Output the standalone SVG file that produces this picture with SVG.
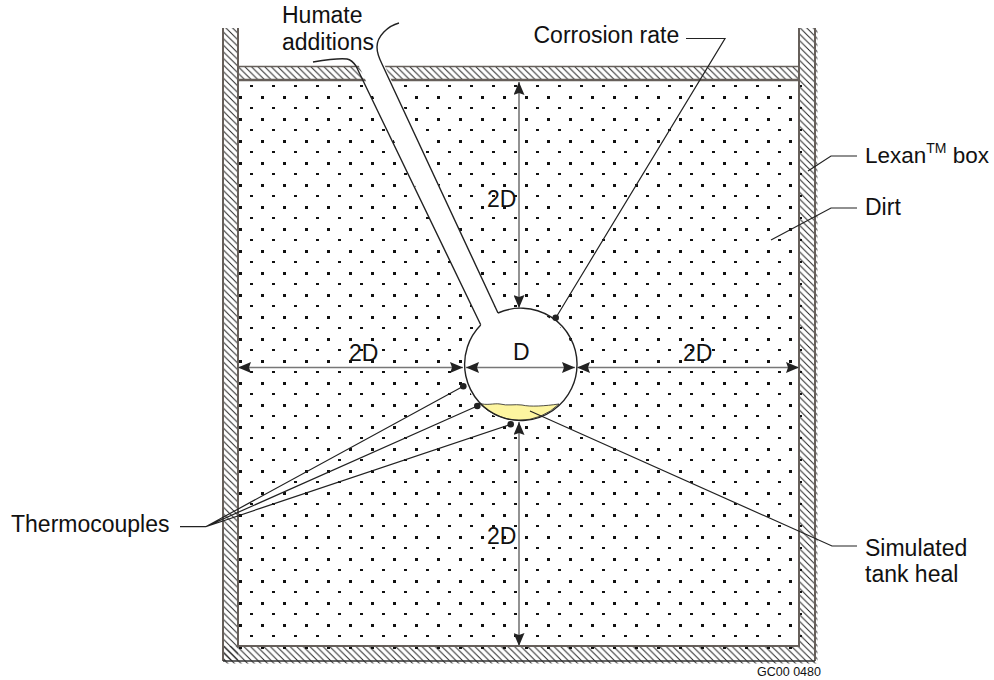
<svg xmlns="http://www.w3.org/2000/svg" width="994" height="680" viewBox="0 0 994 680">
<style>
text{font-family:"Liberation Sans",Arial,sans-serif;font-size:23px;fill:#111}
.l{fill:none;stroke:#222;stroke-width:1.2}
.p{fill:none;stroke:#222;stroke-width:1.4}
.w{fill:none;stroke:#665f5a;stroke-width:2}
.d{stroke:#777;stroke-width:1.6;fill:none}
.dot{fill:#222}
</style>
<defs>
<pattern id="hatch" width="6.6" height="6.6" patternUnits="userSpaceOnUse">
<path d="M-1,-1L7.6,7.6M-7.6,-1L1,7.6M5.6,-1L14.2,7.6" stroke="#222" stroke-width="1" fill="none"/>
</pattern>
<pattern id="dots" x="239" y="580" width="22" height="22" patternUnits="userSpaceOnUse">
<rect x="0" y="0" width="3" height="3" fill="#111"/>
<rect x="11" y="11" width="3" height="2" fill="#111"/>
</pattern>
<marker id="a" viewBox="0 0 13 11" markerWidth="13" markerHeight="11" refX="13" refY="5.500" orient="auto-start-reverse" markerUnits="userSpaceOnUse">
<path d="M0,0L13,5.500L0,11L2,5.500Z" fill="#222"/>
</marker>
</defs>
<g id="box">
<path d="M223,28H238V661H223Z" fill="url(#hatch)"/>
<path d="M799,28H817.500V663.500H223V646H799Z" fill="url(#hatch)"/>
<path d="M238,66H799V80H238Z" fill="url(#hatch)"/>
<rect x="238" y="82" width="564" height="567" fill="url(#dots)"/>
<path class="w" d="M223,28V661M815,661V28M238,28V646H799V28"/>
<path d="M223,661H815" stroke="#333" stroke-width="1.500" fill="none"/>
<path d="M238,80H799" stroke="#665f5a" stroke-width="2.400" fill="none"/>
<path d="M238,66.500H799" stroke="#665f5a" stroke-width="1.300" fill="none"/>
</g>
<g id="tank">
<path d="M353,64L358,64L481,326L498,314L384,64Z" fill="#fff"/>
<circle cx="519.500" cy="365.700" r="56.200" fill="#fff"/>
<path d="M472,334L481,325L498,313L505,325Z" fill="#fff"/>
<path d="M479,403C486,406 494,403 500,404C507,406 515,404 522,405C530,407 545,406 559,404A56.200,56.200,0,0,1,479,403Z" fill="#fdf5a0" stroke="#222" stroke-width="0.800"/>
<path class="p" d="M498,313A56.200,56.200,0,1,1,480.700,325"/>
<path class="p" d="M313,62C325,60 340,58 347,59C352,60 354,63 356,66L480.700,324.700"/>
<path class="p" d="M399,23C388,26 377,36 377,47C377,53 379,58 382,64L498,313"/>
</g>
<g id="connectors">
<path class="d" d="M519,82V308" marker-start="url(#a)" marker-end="url(#a)"/>
<path class="d" d="M519,422V646" marker-start="url(#a)" marker-end="url(#a)"/>
<path class="d" d="M238,367.500H463" marker-start="url(#a)" marker-end="url(#a)"/>
<path class="d" d="M466,367.500H575" marker-start="url(#a)" marker-end="url(#a)"/>
<path class="d" d="M577,367.500H799" marker-start="url(#a)" marker-end="url(#a)"/>
<path class="l" d="M555.700,318L725,38.500H686"/>
<path class="l" d="M808,171L831,156H857"/>
<path class="l" d="M771,240L831,208H857"/>
<path class="l" d="M530,411L832,546H857"/>
<path class="l" d="M180,526.700H205.700L463.300,386.300M205.700,526.700L477.300,406M205.700,526.700L510.700,424.300"/>
<circle class="dot" cx="463.300" cy="386.300" r="3.300"/>
<circle class="dot" cx="477.300" cy="406" r="3.300"/>
<circle class="dot" cx="510.700" cy="424.300" r="3.300"/>
<circle class="dot" cx="555.700" cy="317.700" r="3.300"/>
</g>
<g id="labels">
<text x="282" y="23">Humate</text>
<text x="282" y="50">additions</text>
<text x="533.500" y="43">Corrosion rate</text>
<text x="865" y="163" font-size="23" style="font-size:22.500px">Lexan<tspan style="font-size:14px" dy="-10">TM</tspan><tspan dy="10"> box</tspan></text>
<text x="865" y="215">Dirt</text>
<text x="487" y="207">2D</text>
<text x="349" y="361">2D</text>
<text x="683" y="361">2D</text>
<text x="513" y="360">D</text>
<text x="487" y="544">2D</text>
<text x="11" y="532">Thermocouples</text>
<text x="865" y="556">Simulated</text>
<text x="865" y="582">tank heal</text>
<text x="757" y="676" style="font-size:12.500px">GC00 0480</text>
</g>
</svg>
